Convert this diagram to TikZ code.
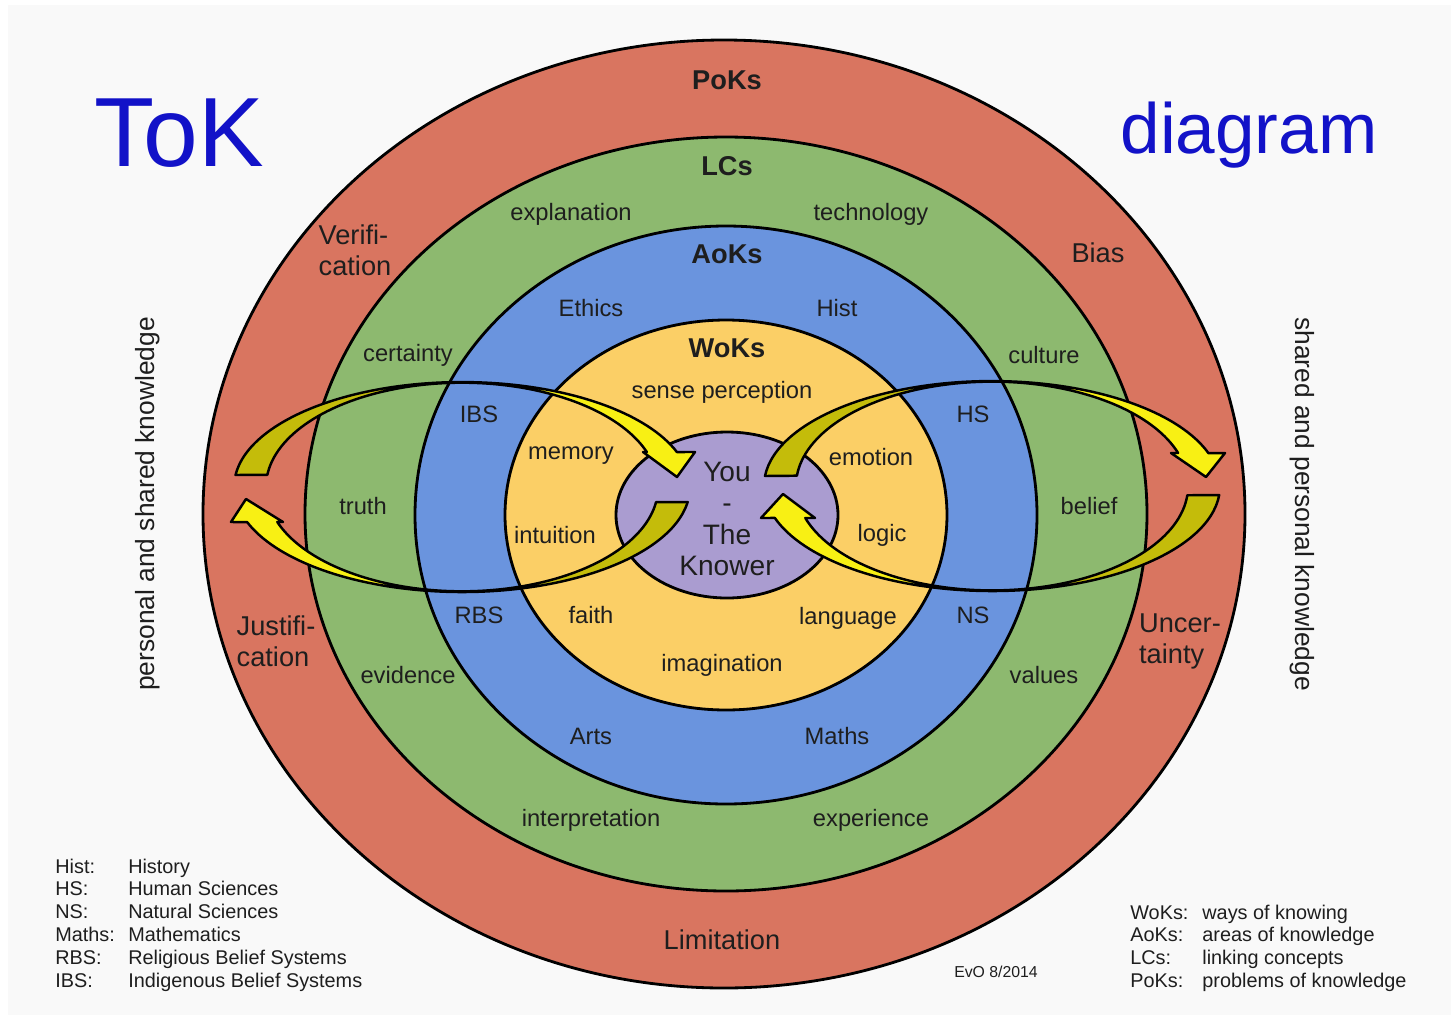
\documentclass[tikz,border=0pt]{standalone}
\usepackage{fontspec}
\setmainfont{Liberation Sans}

\definecolor{paper}{RGB}{249,249,249}
\definecolor{pokred}{RGB}{217,117,96}
\definecolor{lcgreen}{RGB}{141,185,111}
\definecolor{aokblue}{RGB}{106,148,222}
\definecolor{wokyellow}{RGB}{251,207,102}
\definecolor{knowerpurple}{RGB}{170,156,208}
\definecolor{arrowyellow}{RGB}{248,240,20}
\definecolor{arrowolive}{RGB}{196,188,10}
\definecolor{titleblue}{RGB}{18,18,200}
\definecolor{ink}{RGB}{30,30,30}

\pgfdeclarehorizontalshading{olivetoyellow}{100bp}{color(0bp)=(arrowolive); color(25bp)=(arrowolive); color(42bp)=(arrowolive); color(58bp)=(arrowyellow); color(75bp)=(arrowyellow); color(100bp)=(arrowyellow)}
\pgfdeclarehorizontalshading{yellowtoolive}{100bp}{color(0bp)=(arrowyellow); color(25bp)=(arrowyellow); color(42bp)=(arrowyellow); color(58bp)=(arrowolive); color(75bp)=(arrowolive); color(100bp)=(arrowolive)}

\tikzstyle{ring} = [draw=black, line width=1.6pt]
\tikzstyle{band} = [draw=black, line width=1.4pt, line join=round]
\tikzstyle{lbl} = [text=ink, inner sep=1pt, font=\fontsize{13.5}{16}\selectfont]
\tikzstyle{ringhead} = [text=ink, inner sep=1pt, font=\fontsize{15.5}{18}\selectfont\bfseries]
\tikzstyle{pok} = [text=ink, inner sep=1pt, align=left, font=\fontsize{15.5}{17.6}\selectfont]
\tikzstyle{side} = [text=ink, inner sep=1pt, font=\fontsize{15}{18}\selectfont]
\tikzstyle{legend} = [text=ink, inner sep=0pt, anchor=base west, font=\fontsize{11.3}{13}\selectfont]

\begin{document}
\begin{tikzpicture}[x=0.02cm, y=-0.02cm]

    \useasboundingbox (0,0) rectangle (1451,1015);
    \fill[white] (0,0) rectangle (1451,1015);
    \fill[paper] (8,5) rectangle (1451,1015);

    % the five rings
    \draw[ring, fill=pokred] (724,514) ellipse [x radius=521, y radius=474];
    \draw[ring, fill=lcgreen] (726,514) ellipse [x radius=421, y radius=377];
    \draw[ring, fill=aokblue] (726,515) ellipse [x radius=311, y radius=289];
    \draw[ring, fill=wokyellow] (726,515) ellipse [x radius=221, y radius=195];
    \draw[ring, fill=knowerpurple] (727,515) ellipse [x radius=111, y radius=83];

    % left loop
    \shadedraw[band, shading=olivetoyellow] (235.5,475) arc[start angle=186.6, end angle=340.5, x radius=228, y radius=105]
        -- (695,452) -- (677,477) -- (643,452) -- (646.8,452)
        arc[start angle=340.5, end angle=186.6, x radius=196, y radius=104] -- cycle;
    \shadedraw[band, shading=yellowtoolive] (687.7,502) arc[start angle=8.2, end angle=160.5, x radius=228, y radius=105]
        -- (231,522) -- (246,499) -- (283,522) -- (277.3,522)
        arc[start angle=160.5, end angle=8.2, x radius=196, y radius=104] -- cycle;

    % right loop
    \shadedraw[band, shading=olivetoyellow] (765,476) arc[start angle=185.5, end angle=341.7, x radius=228, y radius=105]
        -- (1225,453) -- (1206,477) -- (1171,453) -- (1178.1,453)
        arc[start angle=341.7, end angle=185.5, x radius=196, y radius=104] -- cycle;
    \shadedraw[band, shading=yellowtoolive] (1219.2,495) arc[start angle=4.9, end angle=162.3, x radius=228, y radius=105]
        -- (761,518) -- (783,494) -- (815,518) -- (805.3,518)
        arc[start angle=162.3, end angle=4.9, x radius=196, y radius=104] -- cycle;

    % titles
    \node[text=titleblue, inner sep=0pt, font=\fontsize{56}{62}\selectfont] (tok) at (179,133) {ToK};
    \node[text=titleblue, inner sep=0pt, font=\fontsize{40.5}{46}\selectfont] (diagram) at (1249,135) {diagram};

    % ring headings
    \node[ringhead] (poks) at (727,80) {PoKs};
    \node[ringhead] (lcs) at (727,166) {LCs};
    \node[ringhead] (aoks) at (727,254) {AoKs};
    \node[ringhead] (woks) at (727,348) {WoKs};

    % problems of knowledge
    \node[pok] (verif) at (355,250) {Verifi-\\cation};
    \node[pok] (bias) at (1098,253) {Bias};
    \node[pok] (justif) at (276,641) {Justifi-\\cation};
    \node[pok] (uncert) at (1180,641) {Uncer-\\tainty};
    \node[pok] (limit) at (722,940) {Limitation};

    % linking concepts
    \node[lbl] (explan) at (571,214) {explanation};
    \node[lbl] (techno) at (871,214) {technology};
    \node[lbl] (certain) at (408,355) {certainty};
    \node[lbl] (culture) at (1044,355) {culture};
    \node[lbl] (truth) at (363,506) {truth};
    \node[lbl] (belief) at (1089,506) {belief};
    \node[lbl] (evid) at (408,675) {evidence};
    \node[lbl] (values) at (1044,675) {values};
    \node[lbl] (interp) at (591,820) {interpretation};
    \node[lbl] (exper) at (871,820) {experience};

    % areas of knowledge
    \node[lbl] (ethics) at (591,308) {Ethics};
    \node[lbl] (hist) at (837,308) {Hist};
    \node[lbl] (ibs) at (479,414) {IBS};
    \node[lbl] (hs) at (973,414) {HS};
    \node[lbl] (rbs) at (479,615) {RBS};
    \node[lbl] (ns) at (973,615) {NS};
    \node[lbl] (arts) at (591,736) {Arts};
    \node[lbl] (maths) at (837,736) {Maths};

    % ways of knowing
    \node[lbl] (sense) at (722,392) {sense perception};
    \node[lbl] (memory) at (571,456) {memory};
    \node[lbl] (emotion) at (871,457) {emotion};
    \node[lbl] (intuit) at (555,535) {intuition};
    \node[lbl] (logic) at (882,535) {logic};
    \node[lbl] (faith) at (591,615) {faith};
    \node[lbl] (lang) at (848,618) {language};
    \node[lbl] (imagin) at (722,665) {imagination};

    \node[text=ink, inner sep=0pt, align=center, font=\fontsize{16}{17.8}\selectfont] (knower) at (727,519) {You\\-\\The\\Knower};

    % side texts
    \node[side, rotate=90] (persleft) at (148,504) {personal and shared knowledge};
    \node[side, rotate=-90] (sharedright) at (1302,504) {shared and personal knowledge};

    % legends
    \node[legend] (abbrevleft) at (55,873) {\begin{tabular}[t]{@{}p{41.5pt}@{}l@{}}
        Hist: & History\\
        HS: & Human Sciences\\
        NS: & Natural Sciences\\
        Maths: & Mathematics\\
        RBS: & Religious Belief Systems\\
        IBS: & Indigenous Belief Systems
    \end{tabular}};
    \node[legend] (abbrevright) at (1130,919) {\begin{tabular}[t]{@{}p{41pt}@{}l@{}}
        WoKs: & ways of knowing\\
        AoKs: & areas of knowledge\\
        LCs: & linking concepts\\
        PoKs: & problems of knowledge
    \end{tabular}};
    \node[text=ink, inner sep=0pt, font=\fontsize{9}{11}\selectfont] (evo) at (996,972) {EvO 8/2014};

\end{tikzpicture}
\end{document}
